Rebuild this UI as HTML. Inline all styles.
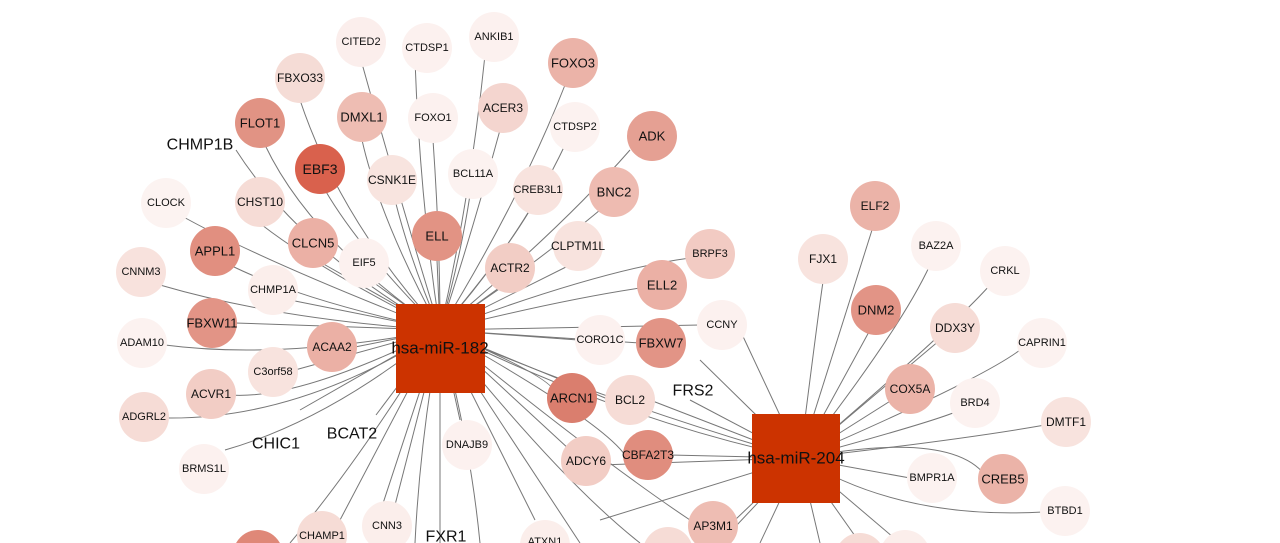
<!DOCTYPE html>
<html><head><meta charset="utf-8"><style>
html,body{margin:0;padding:0;background:#fff;width:1280px;height:543px;overflow:hidden;}
svg{display:block;}
text{font-family:"Liberation Sans",sans-serif;text-anchor:middle;dominant-baseline:central;fill:#111;}
</style></head><body>
<svg width="1280" height="543" viewBox="0 0 1280 543" xmlns="http://www.w3.org/2000/svg">
<g stroke="#777" stroke-width="1" fill="none">
<path d="M440 330 Q400 200 361 60"/><path d="M440 330 Q420 200 415 60"/><path d="M440 330 Q470 200 485 55"/>
<path d="M440 330 Q520 200 565 85"/><path d="M440 330 Q340 220 300 100"/><path d="M440 330 Q380 220 362 140"/>
<path d="M440 330 Q440 240 433 140"/><path d="M440 330 Q470 240 500 130"/><path d="M440 330 Q520 240 565 145"/>
<path d="M440 330 Q560 230 630 150"/><path d="M440 330 Q310 240 265 145"/><path d="M440 330 Q360 250 325 190"/>
<path d="M440 330 Q410 260 395 200"/><path d="M440 330 Q460 260 470 195"/><path d="M440 330 Q500 260 530 210"/>
<path d="M440 330 Q540 260 600 210"/><path d="M440 330 Q300 250 236 150"/><path d="M440 330 Q260 260 180 215"/>
<path d="M440 330 Q320 270 262 225"/><path d="M440 330 L437 260"/><path d="M440 330 L320 262"/>
<path d="M440 330 L370 280"/><path d="M440 330 L505 285"/><path d="M440 330 L570 265"/>
<path d="M440 330 Q600 270 690 258"/><path d="M440 330 Q300 300 230 265"/><path d="M440 330 Q280 320 160 285"/>
<path d="M440 330 L290 300"/><path d="M440 330 L235 323"/><path d="M440 330 Q280 360 165 345"/>
<path d="M440 330 L355 347"/><path d="M440 330 L295 370"/><path d="M440 330 Q300 400 230 395"/>
<path d="M440 330 Q300 420 165 418"/><path d="M440 330 L578 340"/><path d="M440 330 L640 343"/>
<path d="M440 330 Q560 300 640 288"/><path d="M440 330 L700 325"/><path d="M440 330 Q560 380 555 395"/>
<path d="M440 330 L610 400"/><path d="M440 330 Q600 420 625 455"/><path d="M440 330 L570 450"/>
<path d="M440 330 L460 420"/><path d="M440 330 L300 410"/><path d="M440 330 L376 415"/>
<path d="M440 330 Q330 420 225 450"/><path d="M440 330 Q360 460 290 543"/><path d="M440 330 L340 520"/>
<path d="M440 330 L395 505"/><path d="M440 330 Q420 440 415 543"/><path d="M440 330 Q470 440 480 543"/>
<path d="M440 330 L535 520"/><path d="M440 330 Q600 460 690 520"/><path d="M440 330 Q560 480 640 543"/>
<path d="M440 330 L580 543"/><path d="M440 330 L370 543"/><path d="M440 330 L440 543"/>
<path d="M440 330 Q620 420 800 458"/><path d="M440 330 Q600 400 800 458"/>
<path d="M800 458 Q820 300 823 282"/><path d="M800 458 Q850 300 872 230"/><path d="M800 458 Q900 330 930 265"/>
<path d="M800 458 Q950 330 990 285"/><path d="M800 458 L870 330"/><path d="M800 458 L940 340"/>
<path d="M800 458 Q980 380 1020 350"/><path d="M800 458 L895 398"/><path d="M800 458 Q940 420 960 410"/>
<path d="M800 458 Q960 440 1045 425"/><path d="M800 458 L910 478"/><path d="M800 458 Q950 430 985 475"/>
<path d="M800 458 Q900 520 1043 512"/><path d="M800 458 L690 400"/><path d="M800 458 L740 330"/>
<path d="M800 458 L700 360"/><path d="M800 458 L650 400"/><path d="M800 458 L670 455"/>
<path d="M800 458 L600 465"/><path d="M800 458 L735 520"/><path d="M800 458 L720 543"/>
<path d="M800 458 L860 543"/><path d="M800 458 L900 543"/><path d="M800 458 L820 543"/>
<path d="M800 458 L600 520"/><path d="M800 458 L760 543"/>
</g>
<g stroke="none">
<circle cx="361" cy="42" r="25" fill="#fbeeec"/><circle cx="427" cy="48" r="25" fill="#fcf1ef"/>
<circle cx="494" cy="37" r="25" fill="#fcf1ef"/><circle cx="573" cy="63" r="25" fill="#ebb3a8"/>
<circle cx="300" cy="78" r="25" fill="#f5dcd6"/><circle cx="362" cy="117" r="25" fill="#eebdb3"/>
<circle cx="433" cy="118" r="25" fill="#fcf1ef"/><circle cx="503" cy="108" r="25" fill="#f4d5cf"/>
<circle cx="575" cy="127" r="25" fill="#fcf2f0"/><circle cx="652" cy="136" r="25" fill="#e5a093"/>
<circle cx="260" cy="123" r="25" fill="#e19384"/><circle cx="320" cy="169" r="25" fill="#d9614d"/>
<circle cx="392" cy="180" r="25" fill="#f8e4df"/><circle cx="473" cy="174" r="25" fill="#fcf2f0"/>
<circle cx="538" cy="190" r="25" fill="#f8e3de"/><circle cx="614" cy="192" r="25" fill="#eebbb1"/>
<circle cx="166" cy="203" r="25" fill="#fcf3f1"/><circle cx="260" cy="202" r="25" fill="#f6dcd6"/>
<circle cx="437" cy="236" r="25" fill="#e29384"/><circle cx="313" cy="243" r="25" fill="#ebb0a5"/>
<circle cx="364" cy="263" r="25" fill="#fcf1ef"/><circle cx="510" cy="268" r="25" fill="#f2cdc5"/>
<circle cx="578" cy="246" r="25" fill="#f8e3de"/><circle cx="710" cy="254" r="25" fill="#f2cbc3"/>
<circle cx="215" cy="251" r="25" fill="#e18f80"/><circle cx="141" cy="272" r="25" fill="#f8e2dd"/>
<circle cx="273" cy="290" r="25" fill="#fbeeeb"/><circle cx="212" cy="323" r="25" fill="#e29486"/>
<circle cx="142" cy="343" r="25" fill="#fcf2f0"/><circle cx="332" cy="347" r="25" fill="#ebb0a5"/>
<circle cx="273" cy="372" r="25" fill="#f8e3de"/><circle cx="211" cy="394" r="25" fill="#f2cdc5"/>
<circle cx="144" cy="417" r="25" fill="#f6dcd6"/><circle cx="600" cy="340" r="25" fill="#fcf1ef"/>
<circle cx="661" cy="343" r="25" fill="#e29486"/><circle cx="662" cy="285" r="25" fill="#ebb0a5"/>
<circle cx="722" cy="325" r="25" fill="#fcf1ef"/><circle cx="572" cy="398" r="25" fill="#da7e6e"/>
<circle cx="630" cy="400" r="25" fill="#f6dcd6"/><circle cx="648" cy="455" r="25" fill="#e08d7e"/>
<circle cx="586" cy="461" r="25" fill="#f2cdc5"/><circle cx="467" cy="445" r="25" fill="#fcf1ef"/>
<circle cx="204" cy="469" r="25" fill="#fcf1ef"/><circle cx="322" cy="536" r="25" fill="#f6dcd6"/>
<circle cx="387" cy="526" r="25" fill="#fbeeeb"/><circle cx="545" cy="545" r="25" fill="#fbeeeb"/>
<circle cx="713" cy="526" r="25" fill="#eebdb3"/><circle cx="258" cy="555" r="25" fill="#df8878"/>
<circle cx="668" cy="552" r="25" fill="#f6dcd6"/><circle cx="875" cy="206" r="25" fill="#ebb3a8"/>
<circle cx="936" cy="246" r="25" fill="#fcf2f0"/><circle cx="823" cy="259" r="25" fill="#f8e3de"/>
<circle cx="1005" cy="271" r="25" fill="#fcf2f0"/><circle cx="876" cy="310" r="25" fill="#e29486"/>
<circle cx="955" cy="328" r="25" fill="#f6dcd6"/><circle cx="1042" cy="343" r="25" fill="#fcf2f0"/>
<circle cx="910" cy="389" r="25" fill="#ebb3a8"/><circle cx="975" cy="403" r="25" fill="#fcf2f0"/>
<circle cx="1066" cy="422" r="25" fill="#f8e3de"/><circle cx="932" cy="478" r="25" fill="#fcf2f0"/>
<circle cx="1003" cy="479" r="25" fill="#ebb3a8"/><circle cx="1065" cy="511" r="25" fill="#fcf2f0"/>
<circle cx="860" cy="558" r="25" fill="#f6dcd6"/><circle cx="905" cy="555" r="25" fill="#fbeeeb"/>
<rect x="396" y="304" width="89" height="89" fill="#cc3300"/>
<rect x="752" y="414" width="88" height="89" fill="#cc3300"/>
</g>
<g font-size="11">
<text x="361" y="42">CITED2</text><text x="427" y="48">CTDSP1</text><text x="494" y="37">ANKIB1</text>
<text x="573" y="63" font-size="13">FOXO3</text><text x="300" y="78" font-size="12">FBXO33</text>
<text x="362" y="117" font-size="13">DMXL1</text><text x="433" y="118">FOXO1</text>
<text x="503" y="108" font-size="12">ACER3</text><text x="575" y="127">CTDSP2</text>
<text x="652" y="136" font-size="13">ADK</text><text x="260" y="123" font-size="13">FLOT1</text>
<text x="320" y="169" font-size="14">EBF3</text><text x="392" y="180" font-size="12">CSNK1E</text>
<text x="473" y="174">BCL11A</text><text x="538" y="190">CREB3L1</text>
<text x="614" y="192" font-size="13">BNC2</text><text x="166" y="203">CLOCK</text>
<text x="260" y="202" font-size="12">CHST10</text><text x="437" y="236" font-size="13">ELL</text>
<text x="313" y="243" font-size="13">CLCN5</text><text x="364" y="263">EIF5</text>
<text x="510" y="268" font-size="12">ACTR2</text><text x="578" y="246" font-size="12">CLPTM1L</text>
<text x="710" y="254" font-size="11">BRPF3</text><text x="215" y="251" font-size="13">APPL1</text>
<text x="141" y="272">CNNM3</text><text x="273" y="290">CHMP1A</text>
<text x="212" y="323" font-size="13">FBXW11</text><text x="142" y="343">ADAM10</text>
<text x="332" y="347" font-size="12">ACAA2</text><text x="273" y="372">C3orf58</text>
<text x="211" y="394" font-size="12">ACVR1</text><text x="144" y="417">ADGRL2</text>
<text x="600" y="340">CORO1C</text><text x="661" y="343" font-size="13">FBXW7</text>
<text x="662" y="285" font-size="13">ELL2</text><text x="722" y="325">CCNY</text>
<text x="572" y="398" font-size="13">ARCN1</text><text x="630" y="400" font-size="12">BCL2</text>
<text x="648" y="455" font-size="12">CBFA2T3</text><text x="586" y="461" font-size="12">ADCY6</text>
<text x="467" y="445">DNAJB9</text><text x="204" y="469">BRMS1L</text>
<text x="322" y="536">CHAMP1</text><text x="387" y="526">CNN3</text>
<text x="545" y="542">ATXN1</text><text x="713" y="526" font-size="12">AP3M1</text>
<text x="875" y="206" font-size="12">ELF2</text><text x="936" y="246">BAZ2A</text>
<text x="823" y="259" font-size="12">FJX1</text><text x="1005" y="271">CRKL</text>
<text x="876" y="310" font-size="13">DNM2</text><text x="955" y="328" font-size="12">DDX3Y</text>
<text x="1042" y="343">CAPRIN1</text><text x="910" y="389" font-size="12">COX5A</text>
<text x="975" y="403">BRD4</text><text x="1066" y="422" font-size="12">DMTF1</text>
<text x="932" y="478">BMPR1A</text><text x="1003" y="479" font-size="13">CREB5</text>
<text x="1065" y="511">BTBD1</text>
</g>
<g font-size="16">
<text x="200" y="145">CHMP1B</text><text x="693" y="391">FRS2</text>
<text x="276" y="444">CHIC1</text><text x="352" y="434">BCAT2</text>
<text x="446" y="537">FXR1</text>
<text x="440" y="348" font-size="17">hsa-miR-182</text>
<text x="796" y="458" font-size="17">hsa-miR-204</text>
</g>
</svg>
</body></html>
